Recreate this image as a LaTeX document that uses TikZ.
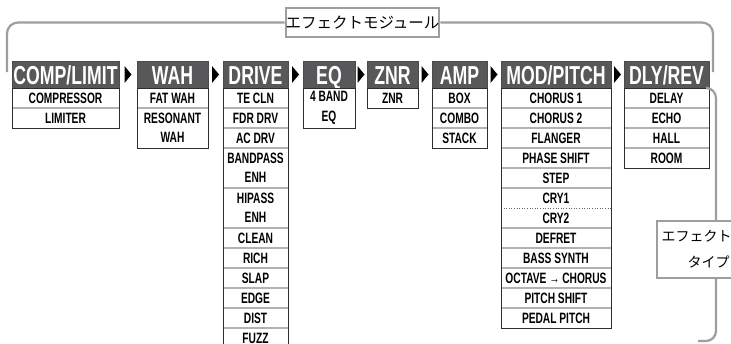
\documentclass[tikz,border=0pt]{standalone}
\usepackage{fontspec}
\setmainfont{Liberation Sans}
\newfontfamily\hdrfont[FakeStretch=0.68]{Liberation Sans}
\newfontfamily\itmfont[FakeStretch=0.68]{Liberation Sans}
\newfontfamily\jpfont{Noto Sans CJK JP}
\usetikzlibrary{calc}
\definecolor{hdrgray}{RGB}{88,88,90}
\definecolor{brgray}{RGB}{158,158,158}
\definecolor{sepgray}{RGB}{178,178,178}
\definecolor{outerc}{RGB}{45,45,45}
\def\rh{20}
\newcommand\fxfirst[4]{% name, header, units, text
  \node[itembox, minimum width=\fxw, minimum height={#3*\rh}] (#1) at (#2.south west) {#4};}
\newcommand\fxnext[4]{% name, previous, units, text
  \node[itembox, minimum width=\fxw, minimum height={#3*\rh}] (#1) at (#2.south west) {#4};
  \draw[sepline] (#2.south west) -- (#2.south east);}
\newcommand\fxnextdot[4]{% name, previous, units, text (dotted separator)
  \node[itembox, minimum width=\fxw, minimum height={#3*\rh}] (#1) at (#2.south west) {#4};
  \draw[sepdot] (#2.south west) -- (#2.south east);}
\newcommand\fxframe[2]{\draw[outerline] (#1.south west) rectangle (#2.south east);}
\newcommand\fxtri[2]{\fill[black] ($(#1.east)!0.5!(#2.west)+(-3.5,-8.5)$) -- ++(7,8.5) -- ++(-7,8.5) -- cycle;}
\begin{document}
\begin{tikzpicture}[x=1pt,y=-1pt,
  hdr/.style={fill=hdrgray, draw=hdrgray!85!black, line width=0.6pt, text=white,
    font=\hdrfont\bfseries\fontsize{26}{26}\selectfont, inner sep=0pt, outer sep=0pt,
    anchor=north west, minimum height=27, text height=19, text depth=0pt},
  itembox/.style={inner sep=0pt, outer sep=0pt, anchor=north west, align=center,
    font=\itmfont\bfseries\fontsize{15}{19.5}\selectfont, text=black},
  sepline/.style={draw=sepgray, line width=1.3pt},
  sepdot/.style={draw=black!60, line width=0.6pt, dotted},
  outerline/.style={draw=outerc, line width=1pt},
  bracket/.style={draw=brgray, line width=2.2pt, rounded corners=11},
  jpbox/.style={draw=brgray, line width=2pt, fill=white, inner sep=0pt}]
\useasboundingbox (0,0) rectangle (731,343);
\clip (0,0) rectangle (731,343);
\fill[white] (0,0) rectangle (731,343);

% title and upper bracket
\node[jpbox, minimum width=149, minimum height=29,
  font=\jpfont\fontsize{15.5}{15.5}\selectfont] (title) at (362.5,22.5) {エフェクトモジュール};
\draw[bracket] (title.west) -- (7,22.5) -- (7,72);
\draw[bracket] (title.east) -- (713,22.5) -- (713,72);

% headers
\node[hdr, minimum width=107] (comp) at (12,61) {COMP/LIMIT};
\node[hdr, minimum width=71] (wah) at (137,61) {WAH};
\node[hdr, minimum width=65] (drive) at (223,61) {DRIVE};
\node[hdr, minimum width=52] (eq) at (303,61) {EQ};
\node[hdr, minimum width=51] (znr) at (367,61) {ZNR};
\node[hdr, minimum width=55] (amp) at (432,61) {AMP};
\node[hdr, minimum width=110] (mod) at (501,61) {MOD/PITCH};
\node[hdr, minimum width=85] (dly) at (624,61) {DLY/REV};

% arrows between modules
\fxtri{comp}{wah}
\fxtri{wah}{drive}
\fxtri{drive}{eq}
\fxtri{eq}{znr}
\fxtri{znr}{amp}
\fxtri{amp}{mod}
\fxtri{mod}{dly}

% COMP/LIMIT
\def\fxw{107}
\fxfirst{c1}{comp}{1}{COMPRESSOR}
\fxnext{c2}{c1}{1}{LIMITER}
\fxframe{comp}{c2}

% WAH
\def\fxw{71}
\fxfirst{w1}{wah}{1}{FAT WAH}
\fxnext{w2}{w1}{2}{RESONANT\\WAH}
\fxframe{wah}{w2}

% DRIVE
\def\fxw{65}
\fxfirst{d1}{drive}{1}{TE CLN}
\fxnext{d2}{d1}{1}{FDR DRV}
\fxnext{d3}{d2}{1}{AC DRV}
\fxnext{d4}{d3}{2}{BANDPASS\\ENH}
\fxnext{d5}{d4}{2}{HIPASS\\ENH}
\fxnext{d6}{d5}{1}{CLEAN}
\fxnext{d7}{d6}{1}{RICH}
\fxnext{d8}{d7}{1}{SLAP}
\fxnext{d9}{d8}{1}{EDGE}
\fxnext{d10}{d9}{1}{DIST}
\fxnext{d11}{d10}{1}{FUZZ}
\fxframe{drive}{d11}

% EQ
\def\fxw{52}
\fxfirst{e1}{eq}{2}{4 BAND\\EQ}
\fxframe{eq}{e1}

% ZNR
\def\fxw{51}
\fxfirst{z1}{znr}{1}{ZNR}
\fxframe{znr}{z1}

% AMP
\def\fxw{55}
\fxfirst{a1}{amp}{1}{BOX}
\fxnext{a2}{a1}{1}{COMBO}
\fxnext{a3}{a2}{1}{STACK}
\fxframe{amp}{a3}

% MOD/PITCH
\def\fxw{110}
\fxfirst{m1}{mod}{1}{CHORUS 1}
\fxnext{m2}{m1}{1}{CHORUS 2}
\fxnext{m3}{m2}{1}{FLANGER}
\fxnext{m4}{m3}{1}{PHASE SHIFT}
\fxnext{m5}{m4}{1}{STEP}
\fxnext{m6}{m5}{1}{CRY1}
\fxnextdot{m7}{m6}{1}{CRY2}
\fxnext{m8}{m7}{1}{DEFRET}
\fxnext{m9}{m8}{1}{BASS SYNTH}
\fxnext{m10}{m9}{1}{OCTAVE → CHORUS}
\fxnext{m11}{m10}{1}{PITCH SHIFT}
\fxnext{m12}{m11}{1}{PEDAL PITCH}
\fxframe{mod}{m12}

% DLY/REV
\def\fxw{85}
\fxfirst{r1}{dly}{1}{DELAY}
\fxnext{r2}{r1}{1}{ECHO}
\fxnext{r3}{r2}{1}{HALL}
\fxnext{r4}{r3}{1}{ROOM}
\fxframe{dly}{r4}

% lower right bracket and effect type label
\coordinate (brend) at (698,341);
\draw[bracket, rounded corners=10] (dly.south east) -- (716,88) -- (716,341) -- (brend);
\node[jpbox, anchor=north west, minimum width=77, minimum height=57, text width=68, align=right,
  font=\jpfont\fontsize{14}{26}\selectfont] (etype) at (656,220) {エフェクト\\タイプ};
\end{tikzpicture}
\end{document}
